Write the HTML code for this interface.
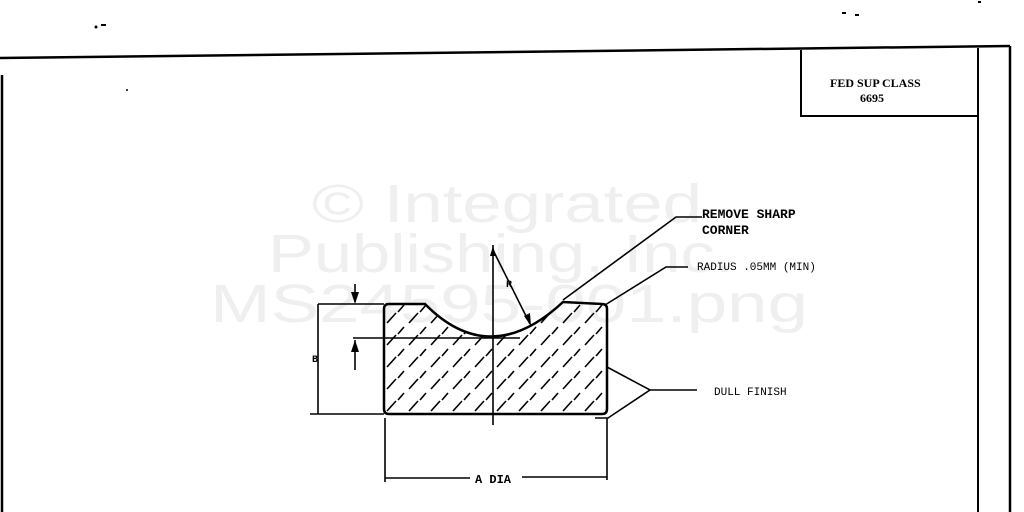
<!DOCTYPE html>
<html><head><style>
html,body{margin:0;padding:0;background:#fff;}
svg{display:block;}
text{font-family:"Liberation Mono",monospace;}
</style></head><body>
<svg width="1024" height="512" viewBox="0 0 1024 512" xmlns="http://www.w3.org/2000/svg">
<defs>
<pattern id="h" width="22" height="22" patternUnits="userSpaceOnUse" patternTransform="translate(384,304)">
<line x1="3" y1="19" x2="12" y2="9" stroke="#000" stroke-width="1.6"/>
<line x1="14" y1="8" x2="20" y2="1" stroke="#000" stroke-width="1.6"/>
</pattern>
<clipPath id="cp"><path d="M389,304 L425,304 Q490,370 563,302 L602,304 Q607,304 607,309 L607,409 Q607,414 602,414 L389,414 Q384,414 384,409 L384,309 Q384,304 389,304 Z"/></clipPath>
</defs>
<!-- watermark -->
<g fill="#efefef" font-size="54">
<text x="312" y="222" textLength="390" lengthAdjust="spacingAndGlyphs" style="font-family:'Liberation Sans',sans-serif">© Integrated</text>
<text x="268" y="272" textLength="466" lengthAdjust="spacingAndGlyphs" style="font-family:'Liberation Sans',sans-serif">Publishing, Inc.</text>
<text x="210" y="322" textLength="598" lengthAdjust="spacingAndGlyphs" style="font-family:'Liberation Sans',sans-serif">MS24595-001.png</text>
</g>
<!-- border -->
<g stroke="#000" fill="none" stroke-width="2.5">
<line x1="0" y1="58" x2="1010" y2="46"/>
<line x1="1010" y1="46" x2="1010" y2="512"/>
<line x1="2" y1="75" x2="2" y2="512"/>
<line x1="978" y1="48" x2="978" y2="512" stroke-width="2"/>
<polyline points="801,50 801,116 978,116" stroke-width="2"/>
</g>
<text x="830" y="87" font-size="12" font-weight="bold" style="font-family:'Liberation Serif',serif">FED SUP CLASS</text>
<text x="860" y="102" font-size="12" font-weight="bold" style="font-family:'Liberation Serif',serif">6695</text>
<circle cx="96" cy="27" r="1.5"/><rect x="101" y="24" width="5" height="2"/><circle cx="127" cy="90" r="1"/>
<rect x="842" y="12" width="4" height="2"/><rect x="855" y="14" width="4" height="2"/><rect x="978" y="1" width="3" height="2"/>
<!-- part -->
<rect x="384" y="304" width="223" height="110" fill="url(#h)" clip-path="url(#cp)"/>
<path d="M389,304 L425,304 Q490,370 563,302 L602,304 Q607,304 607,309 L607,409 Q607,414 602,414 L389,414 Q384,414 384,409 L384,309 Q384,304 389,304 Z" fill="none" stroke="#000" stroke-width="2.5"/>
<g stroke="#000" fill="none" stroke-width="1.6">
<line x1="493" y1="245" x2="493" y2="425"/>
<line x1="493" y1="250" x2="530" y2="324"/>
<line x1="318" y1="304" x2="384" y2="304"/>
<line x1="318" y1="304" x2="318" y2="414"/>
<line x1="310" y1="414" x2="384" y2="414"/>
<line x1="355" y1="284" x2="355" y2="302"/>
<line x1="353" y1="338" x2="520" y2="338"/>
<line x1="355" y1="340" x2="355" y2="370"/>
<line x1="385" y1="418" x2="385" y2="482"/>
<line x1="607" y1="418" x2="607" y2="480"/>
<line x1="385" y1="478" x2="470" y2="478"/>
<line x1="522" y1="477" x2="607" y2="477"/>
<polyline points="563,300 676,217 702,217"/>
<polyline points="605,305 666,267 688,267"/>
<polyline points="607,367 650,390 697,390"/>
<polyline points="650,390 608,418 595,418"/>
</g>
<polygon points="355,304 351,292 359,292"/><polygon points="355,340 351,352 359,352"/>
<polygon points="493,246 490,256 496,256"/><polygon points="531,326 524,316 530,313"/>
<text x="506" y="287" font-size="10" font-weight="bold">R</text>
<text x="312" y="362" font-size="10" font-weight="bold">B</text>
<text x="702" y="218" font-size="13" font-weight="bold">REMOVE SHARP</text>
<text x="702" y="234" font-size="13" font-weight="bold">CORNER</text>
<text x="697" y="270" font-size="11">RADIUS .05MM (MIN)</text>
<text x="714" y="395" font-size="11">DULL FINISH</text>
<text x="475" y="483" font-size="12" font-weight="bold">A DIA</text>
</svg>
</body></html>
